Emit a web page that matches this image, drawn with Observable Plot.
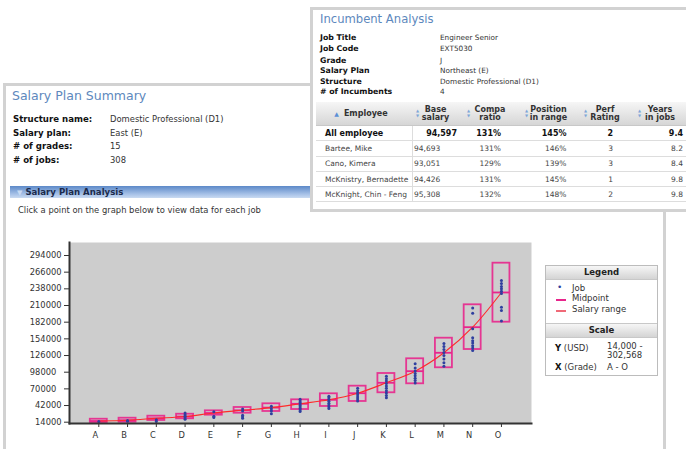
<!DOCTYPE html>
<html><head><meta charset="utf-8">
<script src="https://cdn.jsdelivr.net/npm/d3@7"></script>
<script src="https://cdn.jsdelivr.net/npm/@observablehq/plot@0.6"></script>
<style>
body{margin:0;width:686px;height:449px;overflow:hidden;position:relative;background:#fff;font-family:"DejaVu Sans",Verdana,sans-serif;color:#333}
.abs{position:absolute;white-space:nowrap}
.panel{position:absolute;border:3px solid #d2d2d2;background:#fff;box-sizing:border-box}
.title{color:#5d88bd;font-size:12.5px}
.lbl{font-weight:bold;color:#111}
.sort{position:absolute;left:3px;top:6px;width:5px;font-size:4px;line-height:5px;color:#7ea7d8;text-align:center}
table{border-collapse:collapse;table-layout:fixed;position:absolute;font-size:7.5px}
th{position:relative;background:linear-gradient(#f6f6f6,#d6d6d6);font-weight:bold;color:#333;height:23px;padding:0 4px 0 0;line-height:8px;font-size:8px;border-bottom:1px solid #c8c8c8;text-align:center}
td{height:14.3px;padding:0;border-bottom:1px solid #ddd;color:#444;text-align:right}
td.e{text-align:left;padding-left:9px;border-right:1px solid #ddd}
td.b{text-align:left;padding-left:1.5px}
tr.all td{font-weight:bold;color:#111;font-size:8px}
.lg{position:absolute;border:1px solid #bcbcbc;background:#fff;font-size:8.5px;color:#333}
.lgh{background:linear-gradient(#f6f6f6,#d4d4d4);font-weight:bold;text-align:center;height:13px;line-height:13px;border-bottom:1px solid #c8c8c8;color:#222}
</style></head>
<body>
<script>
// ---------- data ----------
const grades = ["A","B","C","D","E","F","G","H","I","J","K","L","M","N","O"];
const rangeMin = [13500,14000,16900,19700,25800,29100,32000,35300,40400,48800,63400,78500,105400,136100,182000];
const rangeMid = [16000,17300,20500,23500,29500,34000,38500,44900,51600,62700,80200,99700,130600,173600,231900];
const rangeMax = [19000,20700,24100,27400,33100,38700,44900,51600,61700,74500,95800,120500,155100,211200,281100];
const jobSalaries = [
  [15000],
  [15500,17000],
  [15000,18000],
  [19000,21500,24000,26500,29500],
  [22000,24000,31500],
  [20500,23000,25500,33000,36000],
  [28000,33000,36500,41000],
  [32000,34500,37000,39500,42000,44500,47000,49500,52500],
  [37000,40000,43000,46000,49000,52000,55000,57500],
  [49500,53000,56500,60000,63500,67000,71000],
  [55000,59000,63000,67000,71000,75000,79000,83000,87000,91000],
  [80000,84000,88000,92000,96000,100000,105000,112000],
  [108000,114000,120000,126000,131000,136000,141000,146000],
  [134500,138500,142500,147000,151000,156000,171000,197000,206000],
  [184000,201500,207000,230000,234000,238000,242000,247000,252000]
];
const yTicks = [14000,42000,70000,98000,126000,154000,182000,210000,238000,266000,294000];
const yTickLabels = ["14000","42000","70000\u00a0\u00a0","98000\u00a0\u00a0","126000","154000","182000","210000","238000","266000","294000"];

const summaryLabels = ["Structure name:","Salary plan:","# of grades:","# of jobs:"];
const summaryValues = ["Domestic Professional (D1)","East (E)","15","308"];
const incLabels = ["Job Title","Job Code","Grade","Salary Plan","Structure","# of Incumbents"];
const incValues = ["Engineer Senior","EXT5030","J","Northeast (E)","Domestic Professional (D1)","4"];
const tableHeaders = [["Employee"],["Base","salary"],["Compa","ratio"],["Position","in range"],["Perf","Rating"],["Years","in jobs"]];
const employees = ["All employee","Bartee, Mike","Cano, Kimera","McKnistry, Bernadette","McKnight, Chin - Feng"];
const baseSalary = ["94,597","94,693","93,051","94,426","95,308"];
const compaRatio = ["131%","131%","129%","131%","132%"];
const positionInRange = ["145%","146%","139%","145%","148%"];
const perfRating = ["2","3","3","1","2"];
const yearsInJob = ["9.4","8.2","8.4","9.8","9.8"];

// ---------- page ----------
const B = document.body;
function el(tag, cls, css, html){const e=document.createElement(tag); if(cls) e.className=cls; if(css) e.style.cssText=css; if(html!==undefined) e.innerHTML=html; B.appendChild(e); return e;}

// left panel
el("div","panel","left:3px;top:83px;width:663px;height:420px;");
el("div","abs title","left:12px;top:88px;line-height:16px;","Salary Plan Summary");
summaryLabels.forEach((t,i)=>{
  const y = [119,133,146,160][i];
  el("div","abs lbl",`left:13px;top:${y-6}px;line-height:12px;font-size:8.6px;`,t);
  el("div","abs",`left:110px;top:${y-6}px;line-height:12px;font-size:8.4px;color:#333;`,summaryValues[i]);
});
el("div","abs",`left:10px;top:186px;width:320px;height:12px;background:linear-gradient(#5c89c8,#a9c3e8 70%,#c9daf1);`);
el("div","abs",`left:17px;top:186px;line-height:12px;font-size:8.6px;font-weight:bold;color:#1c2b4c;`,`<span style="color:#c8daf2;font-size:7px">&#9660;</span> Salary Plan Analysis`);
el("div","abs",`left:18px;top:204px;line-height:12px;font-size:8.4px;color:#333;`,"Click a point on the graph below to view data for each job");

// incumbent panel
el("div","panel","left:310px;top:7px;width:400px;height:205px;");
el("div","abs title","left:320px;top:11px;line-height:16px;font-size:11.6px;","Incumbent Analysis");
incLabels.forEach((t,i)=>{
  const y = [38.3,49.3,60.5,71.3,81.5,92.3][i];
  el("div","abs lbl",`left:320px;top:${y-5}px;line-height:10px;font-size:7.8px;`,t);
  el("div","abs",`left:440px;top:${y-5}px;line-height:10px;font-size:7.3px;color:#333;`,incValues[i]);
});
const colW=[96,51,58,59,54,56];
const padR=[0,6,20,13.5,21,7];
let html="<colgroup>"+colW.map(w=>`<col style="width:${w}px">`).join("")+"</colgroup><tr>";
tableHeaders.forEach((h,i)=>{
  if(i===0) html += `<th style="padding:0 6px 0 0"><span style="color:#5b8fd6;font-size:6px;margin-right:5px">&#9650;</span>${h[0]}</th>`;
  else html += `<th><span class="sort">&#9650;<br>&#9660;</span>${h.join("<br>")}</th>`;
});
html+="</tr>";
employees.forEach((e,i)=>{
  html += `<tr class="${i===0?'all':''}"><td class="e">${e}</td>`+
    `<td class="${i===0?'':'b'}" style="${i===0?'padding-right:6px':''}">${baseSalary[i]}</td>`+
    `<td style="padding-right:${padR[2]}px">${compaRatio[i]}</td>`+
    `<td style="padding-right:${padR[3]}px">${positionInRange[i]}</td>`+
    `<td style="padding-right:${padR[4]}px">${perfRating[i]}</td>`+
    `<td style="padding-right:${padR[5]}px">${yearsInJob[i]}</td></tr>`;
});
el("table","", "left:316px;top:102px;width:374px;", html);

// ---------- chart ----------
const boxes = grades.map((g,i)=>({grade:g, lo:rangeMin[i], mid:rangeMid[i], hi:rangeMax[i]}));
const jobs = grades.flatMap((g,i)=>jobSalaries[i].map(s=>({grade:g, salary:s})));
const magenta = "#e8268c";
const chart = Plot.plot({
  width:560, height:219,
  marginLeft:69, marginRight:29, marginTop:12, marginBottom:26,
  style:{fontFamily:"DejaVu Sans, sans-serif", fontSize:"8.3px", color:"#333", background:"transparent"},
  x:{type:"band", domain:grades, range:[78.04,521.2], padding:0.409, align:0.5, round:false, label:null},
  y:{domain:[14000,294000], range:[191.7,25], label:null},
  marks:[
    Plot.frame({fill:"#cdcdcd"}),
    Plot.barY(boxes,{x:"grade", y1:"lo", y2:"hi", fill:"none", stroke:magenta, strokeWidth:1.8, strokeOpacity:0.9}),
    Plot.tickY(boxes,{x:"grade", y:"mid", stroke:magenta, strokeWidth:1.8}),
    Plot.line(boxes,{x:"grade", y:"mid", stroke:"#ff2a2a", strokeWidth:1.1, curve:"catmull-rom"}),
    Plot.dot(jobs,{x:"grade", y:"salary", r:1.5, fill:"#2f3f9f", stroke:"none"}),
    Plot.axisY({ticks:yTicks, tickFormat:d=>yTickLabels[yTicks.indexOf(d)], tickSize:5, tickPadding:3, stroke:"#333"}),
    Plot.axisX({tickSize:4, tickFormat:()=>"", stroke:"#333"}),
    Plot.axisX({tickSize:0, tickPadding:9, dx:-3.5, fill:"#333"}),
    Plot.frame({anchor:"left", stroke:"#333", strokeWidth:2}),
    Plot.frame({anchor:"bottom", stroke:"#333", strokeWidth:2})
  ]
});
chart.style.position="absolute"; chart.style.left="0px"; chart.style.top="230px";
B.appendChild(chart);

// legend
const lg = el("div","lg","left:545px;top:265px;width:111px;height:109px;");
lg.innerHTML = `<div class="lgh">Legend</div>
<div style="position:relative;height:43px">
 <div class="abs" style="left:11px;top:2px;color:#2f3f9f;font-size:9px">&#8226;</div>
 <div class="abs" style="left:26px;top:3px;line-height:11px">Job</div>
 <div class="abs" style="left:10px;top:19px;width:10px;height:1.5px;background:${magenta}"></div>
 <div class="abs" style="left:26px;top:13px;line-height:11px">Midpoint</div>
 <div class="abs" style="left:10px;top:30px;width:10px;height:1.5px;background:#f06a78"></div>
 <div class="abs" style="left:26px;top:24px;line-height:11px">Salary range</div>
</div>
<div class="lgh" style="border-top:1px solid #c8c8c8">Scale</div>
<div style="position:relative;height:40px">
 <div class="abs" style="left:9px;top:5px;line-height:10px"><b style="color:#111">Y</b> (USD)</div>
 <div class="abs" style="left:61px;top:4px;line-height:8.5px">14,000 -<br>302,568</div>
 <div class="abs" style="left:9px;top:24px;line-height:10px"><b style="color:#111">X</b> (Grade)</div>
 <div class="abs" style="left:61px;top:24px;line-height:10px">A - O</div>
</div>`;
</script>
</body></html>
